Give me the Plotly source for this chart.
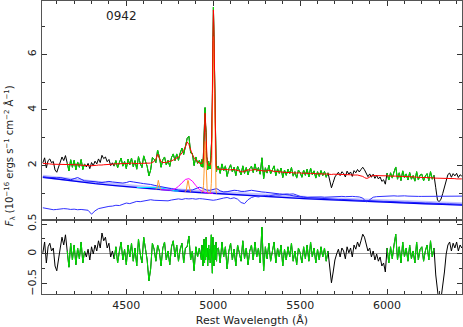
import numpy as np
import plotly.graph_objects as go

# ---------------- data ----------------
# spectrum sampling (Angstrom)
wave_a = np.arange(4020, 4921, 10)   # 91 points
wave_b = np.arange(4932, 5023, 3)    # 31 points ([OIII] region)
wave_c = np.arange(5030, 6431, 10)   # 141 points

# total model (red)
model_a = [2.07, 2.07, 2.06, 2.05, 2.05, 2.04, 2.04, 2.03, 2.03, 2.03,
           2.02, 2.02, 2.02, 2.03, 2.03, 2.02, 2.02, 2.03, 2.03, 2.02,
           2.02, 2.01, 2.01, 2.00, 2.00, 1.99, 1.99, 1.98, 1.98, 1.99,
           2.00, 2.00, 2.01, 2.00, 2.01, 2.02, 2.02, 2.03, 2.03, 2.04,
           2.04, 2.05, 2.05, 2.06, 2.06, 2.06, 2.07, 2.06, 2.06, 2.07,
           2.07, 2.08, 2.07, 2.07, 2.06, 2.06, 2.07, 2.07, 2.06, 2.06,
           2.06, 2.07, 2.08, 2.10, 2.14, 2.22, 2.40, 2.25, 2.13, 2.10,
           2.10, 2.11, 2.13, 2.14, 2.16, 2.19, 2.22, 2.26, 2.30, 2.36,
           2.44, 2.54, 2.66, 2.85, 2.75, 2.55, 2.38, 2.27, 2.18, 2.12,
           2.08]
model_b = [2.05, 2.06, 2.08, 2.13, 2.30, 2.75, 3.45, 3.88, 3.55, 2.90,
           2.35, 2.12, 2.04, 2.00, 1.99, 1.98, 1.99, 2.02, 2.10, 2.35,
           3.10, 4.60, 6.50, 7.60, 6.90, 5.00, 3.20, 2.35, 2.00, 1.90,
           1.86]
model_c = [1.86, 1.86, 1.85, 1.85, 1.86, 1.85, 1.83, 1.84, 1.86, 1.85,
           1.83, 1.82, 1.80, 1.78, 1.76, 1.79, 1.82, 1.84, 1.83, 1.82,
           1.84, 1.85, 1.83, 1.82, 1.83, 1.82, 1.80, 1.79, 1.80, 1.82,
           1.81, 1.79, 1.78, 1.78, 1.77, 1.76, 1.75, 1.76, 1.75, 1.74,
           1.74, 1.75, 1.74, 1.73, 1.72, 1.72, 1.73, 1.72, 1.72, 1.71,
           1.72, 1.71, 1.70, 1.70, 1.71, 1.70, 1.69, 1.69, 1.70, 1.69,
           1.68, 1.68, 1.69, 1.68, 1.68, 1.67, 1.68, 1.68, 1.67, 1.67,
           1.68, 1.67, 1.66, 1.66, 1.67, 1.66, 1.66, 1.65, 1.66, 1.65,
           1.65, 1.64, 1.63, 1.60, 1.56, 1.53, 1.54, 1.59, 1.62, 1.63,
           1.63, 1.64, 1.63, 1.63, 1.62, 1.63, 1.62, 1.62, 1.62, 1.61,
           1.62, 1.61, 1.61, 1.60, 1.61, 1.60, 1.60, 1.60, 1.59, 1.59,
           1.59, 1.58, 1.58, 1.58, 1.57, 1.57, 1.57, 1.56, 1.56, 1.56,
           1.55, 1.55, 1.55, 1.55, 1.54, 1.54, 1.54, 1.54, 1.53, 1.53,
           1.53, 1.53, 1.52, 1.52, 1.52, 1.52, 1.52, 1.51, 1.51, 1.51,
           1.51]

# residuals (data - model), lower panel
resid_a = [0.02, 0.20, -0.15, 0.12, 0.18, 0.05, 0.10, -0.20, -0.28, -0.12,
           0.10, 0.28, 0.15, 0.32, 0.05, -0.22, 0.18, -0.10, 0.15, -0.18,
           0.10, -0.08, 0.20, -0.15, 0.05, -0.05, 0.08, -0.10, 0.12, 0.00,
           0.15, 0.05, 0.22, 0.10, 0.35, 0.22, 0.28, 0.10, 0.18, -0.05,
           0.05, -0.08, 0.12, -0.15, 0.05, 0.20, -0.10, 0.08, -0.18, 0.15,
           -0.05, 0.18, -0.12, 0.10, -0.20, 0.25, 0.00, -0.15, 0.28, 0.05,
           -0.10, -0.45, -0.25, 0.18, 0.08, -0.12, 0.15, 0.05, -0.20, 0.10,
           0.20, -0.10, 0.05, -0.18, 0.12, 0.22, -0.05, 0.15, -0.12, 0.08,
           0.18, -0.15, 0.10, 0.12, 0.30, -0.10, 0.05, -0.28, 0.12, -0.05,
           0.10]
resid_b = [-0.10, 0.15, 0.05, -0.20, 0.10, 0.25, -0.15, 0.20, -0.10, 0.28,
           -0.05, 0.10, -0.20, 0.05, 0.15, -0.10, 0.08, -0.15, 0.20, 0.32,
           -0.05, -0.32, 0.28, 0.10, -0.20, 0.15, -0.10, 0.05, 0.20, -0.12,
           0.08]
resid_c = [0.10, -0.15, 0.20, -0.05, 0.12, -0.25, 0.05, 0.18, -0.10, 0.08,
           -0.20, 0.15, 0.02, -0.12, 0.22, -0.08, 0.10, -0.18, 0.05, 0.15,
           -0.10, 0.20, -0.05, 0.10, -0.15, 0.45, -0.28, 0.12, -0.08, 0.18,
           -0.12, 0.05, 0.20, -0.15, 0.10, -0.05, 0.15, -0.20, 0.08, -0.10,
           0.12, -0.05, 0.18, -0.12, 0.05, -0.18, 0.10, 0.02, -0.15, 0.12,
           -0.08, 0.15, -0.12, 0.20, -0.05, 0.10, -0.15, 0.08, -0.10, 0.12,
           -0.05, 0.10, -0.12, 0.05, -0.20, -0.48, -0.30, -0.10, 0.00, 0.08,
           -0.05, 0.10, 0.05, -0.08, 0.12, 0.02, 0.10, -0.05, 0.15, 0.08,
           0.20, 0.12, 0.22, 0.33, 0.28, 0.15, 0.05, 0.10, -0.05, 0.05,
           -0.10, 0.00, -0.12, -0.05, -0.20, -0.15, -0.30, 0.10, -0.15, 0.12,
           -0.08, 0.15, 0.33, -0.10, 0.12, -0.15, 0.20, -0.05, 0.10, -0.12,
           0.15, -0.08, 0.05, -0.15, 0.20, -0.10, 0.08, 0.12, -0.12, 0.05,
           0.15, -0.10, 0.22, -0.05, 0.10, -0.35, -0.80, -0.85, -0.75, -0.55,
           -0.30, 0.00, 0.15, 0.20, 0.05, 0.18, 0.10, 0.20, 0.05, 0.15,
           0.10]

# fitting windows (plotted in green)
fit_windows = [(4155, 4265), (4425, 5665), (5995, 6275)]

# continuum components, 20 A sampling
wave_cont = np.arange(4020, 6441, 20)   # 122 points
host = [0.47, 0.45, 0.42, 0.40, 0.41, 0.43, 0.44, 0.43, 0.41, 0.42,
        0.40, 0.41, 0.40, 0.38, 0.24, 0.36, 0.44, 0.47, 0.50, 0.52,
        0.53, 0.56, 0.55, 0.60, 0.64, 0.62, 0.66, 0.70, 0.69, 0.72,
        0.75, 0.76, 0.74, 0.73, 0.74, 0.71, 0.72, 0.75, 0.78, 0.79,
        0.77, 0.80, 0.79, 0.80, 0.78, 0.80, 0.79, 0.77, 0.75, 0.74,
        0.76, 0.80, 0.82, 0.84, 0.80, 0.83, 0.78, 0.66, 0.62, 0.76,
        0.84, 0.88, 0.86, 0.89, 0.91, 0.90, 0.92, 0.94, 0.93, 0.96,
        0.97, 0.96, 0.97, 0.93, 0.88, 0.86, 0.84, 0.85, 0.86, 0.85,
        0.86, 0.85, 0.86, 0.87, 0.86, 0.87, 0.88, 0.87, 0.88, 0.88,
        0.87, 0.86, 0.82, 0.68, 0.76, 0.85, 0.87, 0.88, 0.88, 0.89,
        0.89, 0.90, 0.89, 0.90, 0.90, 0.89, 0.88, 0.89, 0.88, 0.88,
        0.88, 0.87, 0.88, 0.88, 0.87, 0.88, 0.89, 0.88, 0.89, 0.89,
        0.89, 0.89]
pl_feii = [1.58, 1.57, 1.56, 1.56, 1.55, 1.56, 1.53, 1.50, 1.48, 1.52,
           1.56, 1.50, 1.44, 1.43, 1.43, 1.41, 1.39, 1.38, 1.40, 1.42,
           1.40, 1.39, 1.38, 1.36, 1.38, 1.42, 1.40, 1.37, 1.36, 1.34,
           1.33, 1.31, 1.28, 1.25, 1.22, 1.20, 1.18, 1.16, 1.13, 1.11,
           1.10, 1.09, 1.10, 1.11, 1.15, 1.21, 1.17, 1.11, 1.10, 1.14,
           1.16, 1.08, 1.04, 1.05, 1.08, 1.10, 1.09, 1.06, 1.06, 1.09,
           1.10, 1.08, 1.05, 1.04, 1.03, 1.01, 0.99, 0.98, 0.97, 0.96,
           0.95, 0.93, 0.90, 0.87, 0.86, 0.85, 0.84, 0.83, 0.83, 0.82,
           0.80, 0.80, 0.79, 0.79, 0.78, 0.77, 0.77, 0.76, 0.76, 0.75,
           0.74, 0.74, 0.73, 0.73, 0.72, 0.72, 0.71, 0.71, 0.70, 0.70,
           0.69, 0.69, 0.68, 0.68, 0.67, 0.67, 0.66, 0.66, 0.65, 0.65,
           0.64, 0.64, 0.63, 0.63, 0.62, 0.62, 0.61, 0.61, 0.60, 0.60,
           0.59, 0.59]

# power-law continuum, 100 A sampling
wave_pl = np.arange(4020, 6521, 100)    # 26 points
power_law = [1.57, 1.49, 1.41, 1.34, 1.28, 1.22, 1.16, 1.11, 1.06, 1.02,
             0.98, 0.94, 0.90, 0.87, 0.835, 0.80, 0.77, 0.74, 0.715, 0.69,
             0.665, 0.64, 0.615, 0.59, 0.565, 0.545]
cont_total = [1.60, 1.525, 1.445, 1.375, 1.315, 1.255, 1.195, 1.145, 1.095, 1.055,
              1.015, 0.975, 0.935, 0.905, 0.87, 0.835, 0.805, 0.775, 0.75, 0.725,
              0.70, 0.675, 0.65, 0.625, 0.60, 0.58]

# broad He II (cyan)
wave_heii_b = np.arange(4560, 4801, 20)
heii_broad = [1.20, 1.20, 1.21, 1.22, 1.22, 1.22, 1.20, 1.18, 1.15, 1.12, 1.10, 1.08, 1.07]
# narrow He II (orange)
wave_heii_n = np.arange(4669, 4700, 3)
heii_narrow = [1.13, 1.134, 1.156, 1.237, 1.38, 1.46, 1.38, 1.237, 1.156, 1.134, 1.13]
# broad H-beta (magenta)
wave_hb_b = np.arange(4700, 5001, 20)
hb_broad = [1.12, 1.11, 1.105, 1.11, 1.15, 1.24, 1.37, 1.49, 1.52, 1.43,
            1.27, 1.13, 1.05, 1.01, 1.00, 0.99]
# narrow H-beta (orange)
wave_hb_n = np.arange(4836, 4873, 3)
hb_narrow = [1.054, 1.055, 1.065, 1.105, 1.21, 1.35, 1.46, 1.44, 1.29, 1.16, 1.08, 1.05, 1.04]
# narrow [OIII] 4959, 5007 (orange), on wave_b grid
oiii_narrow = [1.01, 1.02, 1.04, 1.09, 1.27, 1.72, 2.43, 2.86, 2.53, 1.88,
               1.34, 1.11, 1.04, 1.00, 1.00, 1.00, 0.995, 1.01, 1.10, 1.35,
               2.10, 3.60, 5.52, 6.64, 5.95, 4.06, 2.26, 1.42, 1.08, 0.99,
               0.98]

object_name = "0942"

# ---------------- assemble ----------------
wave = np.concatenate([wave_a, wave_b, wave_c])
model = np.array(model_a + model_b + model_c)
resid = np.array(resid_a + resid_b + resid_c)
n = min(len(wave), len(model), len(resid))
wave, model, resid = wave[:n], model[:n], resid[:n]
flux = model + resid

mask = np.zeros(n, dtype=bool)
for lo, hi in fit_windows:
    mask |= (wave >= lo) & (wave <= hi)
flux_fit = np.where(mask, flux, np.nan)
resid_fit = np.where(mask, resid, np.nan)

GREEN = '#00e400'
fig = go.Figure()

def add(x, y, color, width, ax='1', opacity=1.0):
    fig.add_trace(go.Scatter(
        x=list(x), y=[None if (v is None or (isinstance(v, float) and np.isnan(v))) else float(v) for v in y],
        mode='lines', line=dict(color=color, width=width), opacity=opacity,
        xaxis='x' if ax == '1' else 'x2', yaxis='y' if ax == '1' else 'y2',
        hoverinfo='skip', connectgaps=False))

# top panel
add(wave, flux, '#000000', 1)
add(wave, flux_fit, GREEN, 1)
add(wave_pl, cont_total, 'rgb(120,120,255)', 3.5, opacity=0.45)
add(wave_pl, power_law, '#0000ee', 1.3)
add(wave_cont[:len(pl_feii)], pl_feii, '#2020ff', 1)
add(wave_cont[:len(host)], host, '#3030ff', 1)
add(wave_heii_b, heii_broad, '#00e8ff', 1)
add(wave_hb_b, hb_broad, '#ff00ff', 1)
add(wave_heii_n, heii_narrow, '#ff9a30', 1)
add(wave_hb_n, hb_narrow, '#ff9a30', 1)
add(wave_b, oiii_narrow, '#ff9a30', 1)
add(wave, model, '#ff0000', 1)

# bottom panel
add(wave, resid, '#000000', 1, ax='2')
add(wave, resid_fit, GREEN, 1, ax='2')

frame = dict(showline=True, linecolor='#555555', linewidth=1.3, mirror='ticks',
             ticks='inside', tickcolor='#333333', tickwidth=1, showgrid=False,
             zeroline=False, automargin=False)
xr = [4015, 6431]
split = 0.2526

fig.update_layout(
    width=463, height=327,
    margin=dict(l=42, r=1, t=1, b=33),
    paper_bgcolor='white', plot_bgcolor='white',
    showlegend=False,
    font=dict(family='DejaVu Sans', size=11, color='#222222'),
    xaxis=dict(frame, domain=[0, 1], anchor='y', range=xr, tick0=4500, dtick=500,
               ticklen=5, showticklabels=False,
               minor=dict(ticks='inside', dtick=100, tick0=4000, ticklen=3,
                          tickcolor='#333333')),
    xaxis2=dict(frame, domain=[0, 1], anchor='y2', range=xr, matches='x',
                tick0=4500, dtick=500, ticklen=5, showticklabels=True,
                tickfont=dict(size=11),
                minor=dict(ticks='inside', dtick=100, tick0=4000, ticklen=3,
                           tickcolor='#333333'),
                title=dict(text='Rest Wavelength (Å)', standoff=6,
                           font=dict(size=11))),
    yaxis=dict(frame, domain=[split, 1], anchor='x', range=[0.03, 7.92],
               tick0=0, dtick=2, ticklen=5, tickangle=-90, tickfont=dict(size=11),
               minor=dict(ticks='inside', dtick=1, tick0=0, ticklen=3,
                          tickcolor='#333333')),
    yaxis2=dict(frame, domain=[0, split], anchor='x2', range=[-0.667, 0.567],
                tick0=0, dtick=0.5, ticklen=5, tickangle=-90, tickfont=dict(size=11),
                zeroline=True, zerolinecolor='#999999', zerolinewidth=1,
                minor=dict(ticks='inside', dtick=0.25, tick0=0, ticklen=3,
                           tickcolor='#333333')),
    annotations=[
        dict(text=object_name, x=4474, y=7.37, xref='x', yref='y',
             showarrow=False, font=dict(size=12, color='#222222')),
        dict(text='<i>F</i><sub>λ</sub> (10<sup>−16</sup> ergs s<sup>−1</sup> cm<sup>−2</sup> Å<sup>−1</sup>)',
             x=-0.076, y=0.47, xref='paper', yref='paper', textangle=-90,
             showarrow=False, xanchor='center', yanchor='middle',
             font=dict(size=10, color='#222222')),
    ],
)

fig.write_html("out.html",
               config={'displayModeBar': False, 'staticPlot': True},
               post_script="document.body.style.margin='0';document.body.style.overflow='hidden';")
